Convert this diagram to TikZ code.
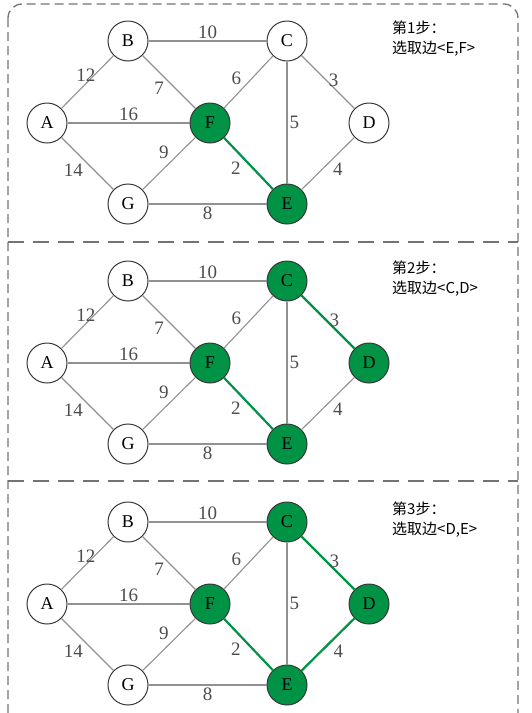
\documentclass[tikz,border=0pt]{standalone}
\usepackage{fontspec}
\setmainfont{Liberation Serif}
\newfontfamily\cjk{Noto Sans CJK SC}
\usetikzlibrary{positioning}

\definecolor{mstgreen}{RGB}{0,146,69}
\definecolor{edgegray}{RGB}{145,145,145}
\definecolor{rimgray}{RGB}{55,55,55}
\definecolor{dashgray}{RGB}{115,115,115}

% one copy of the graph, node names get suffix #1
\newcommand\mstpanel[2]{%
    \foreach \n/\x/\y in {A/47/123, B/128/41, C/287/41, D/369/123,
                          F/210/123, G/128/204, E/287/204}
        \node[vtx, v\n/.try] (\n#1) at (\x,\y) {\n};
    \foreach \a/\b/\w/\q/\p in {B/C/10/.5/south, A/B/12/.47/south,
            B/F/7/.45/north east, A/F/16/.5/south, C/F/6/.6/south east,
            C/D/3/.47/west, C/E/5/.5/west, F/G/9/.46/south east,
            A/G/14/.46/north east, F/E/2/.4/north east,
            D/E/4/.45/north west, G/E/8/.5/north}
        \draw[edge, e\a\b/.try] (\a#1) -- node[wlbl, pos=\q, anchor=\p] {\w} (\b#1);
    \node[steptext, anchor=north west] (step#1) at (392,21) {#2};
}

\begin{document}
\begin{tikzpicture}[
    x=1pt, y=-1pt,
    vtx/.style={
        circle,
        draw=rimgray,
        line width=1pt,
        fill=white,
        minimum size=40pt,
        inner sep=0pt,
        font=\fontsize{18}{20}\selectfont
    },
    pick/.style={fill=mstgreen},
    edge/.style={draw=edgegray, line width=1.1pt},
    tree/.style={draw=mstgreen, line width=2.2pt},
    wlbl/.style={text=black!70, inner sep=2pt, font=\fontsize{19}{21}\selectfont},
    steptext/.style={align=left, inner sep=0pt, font=\cjk\fontsize{15}{20}\selectfont},
    frame/.style={draw=dashgray, line width=1.3pt, dash pattern=on 9pt off 5pt},
    divider/.style={draw=dashgray, line width=1.7pt, dash pattern=on 16pt off 9pt}
]
\useasboundingbox (0,0) rectangle (532,713);

% --- Rahmen und Trennlinien ---
\draw[frame, rounded corners=14pt] (8,4) rectangle (518,770);
\coordinate (cut1l) at (8,242);
\coordinate (cut1r) at (518,242);
\coordinate (cut2l) at (8,481);
\coordinate (cut2r) at (518,481);
\draw[divider] (cut1l) -- (cut1r);
\draw[divider] (cut2l) -- (cut2r);

% --- Schritt 1 ---
\begin{scope}[vF/.style=pick, vE/.style=pick, eFE/.style=tree]
    \mstpanel{1}{第1步：\\选取边<E,F>}
\end{scope}

% --- Schritt 2 ---
\begin{scope}[shift={(0,240)}, vC/.style=pick, vD/.style=pick,
        vF/.style=pick, vE/.style=pick, eFE/.style=tree, eCD/.style=tree]
    \mstpanel{2}{第2步：\\选取边<C,D>}
\end{scope}

% --- Schritt 3 ---
\begin{scope}[shift={(0,481)}, vC/.style=pick, vD/.style=pick,
        vF/.style=pick, vE/.style=pick, eFE/.style=tree, eCD/.style=tree,
        eDE/.style=tree]
    \mstpanel{3}{第3步：\\选取边<D,E>}
\end{scope}

\end{tikzpicture}
\end{document}
